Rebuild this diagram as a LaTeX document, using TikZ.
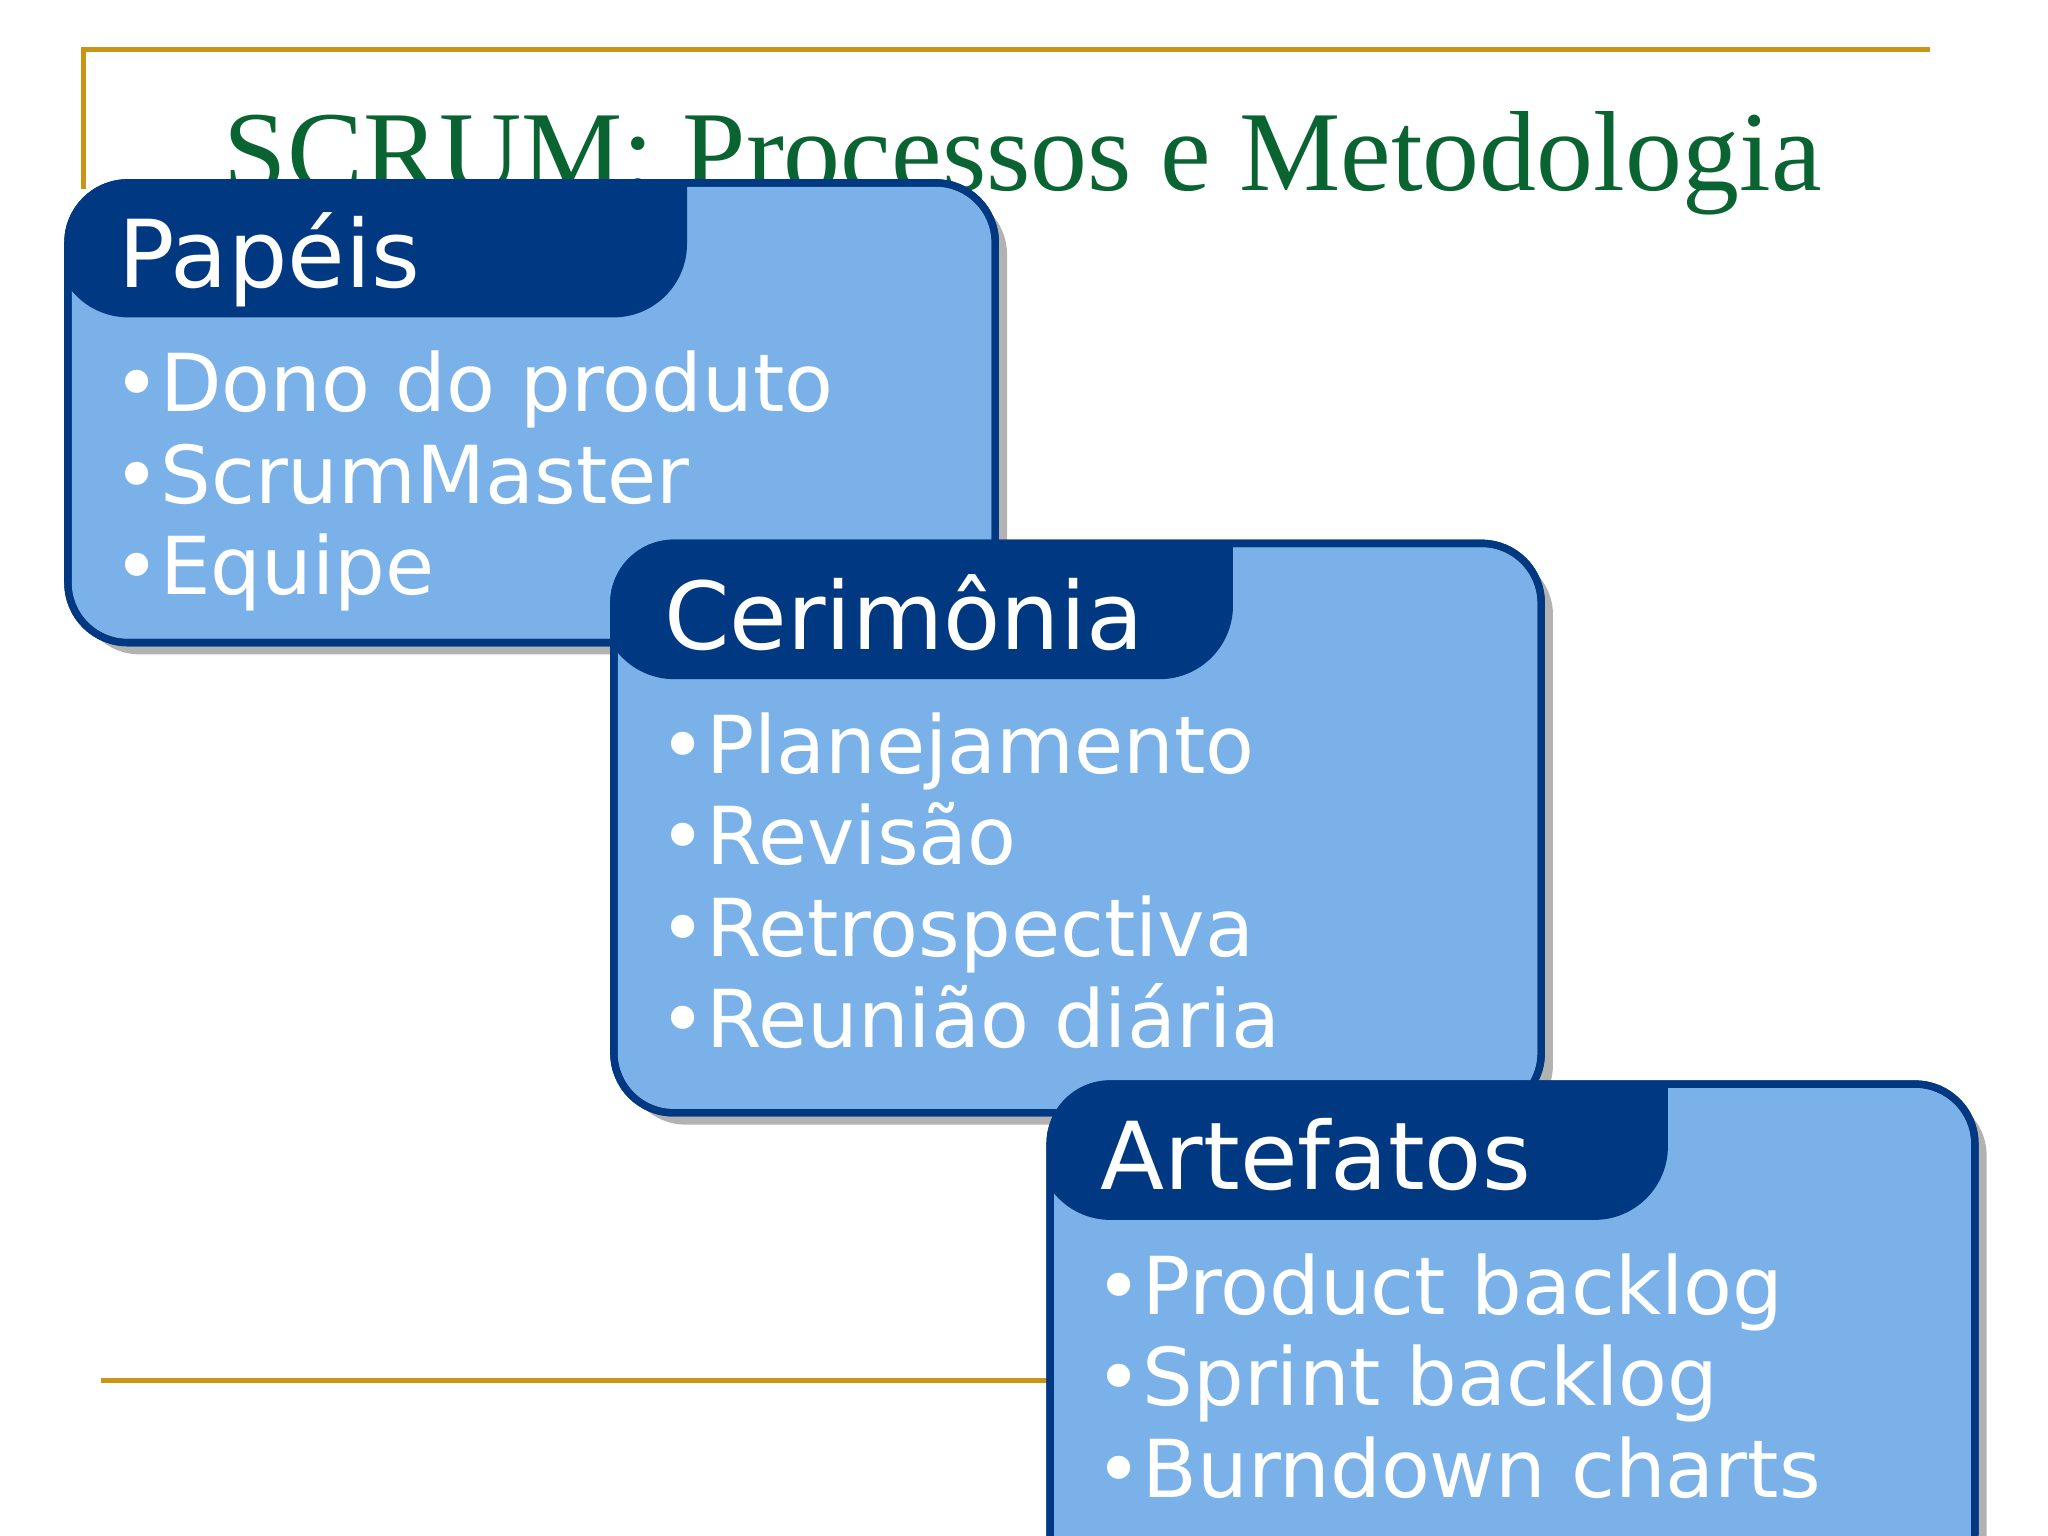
\documentclass[tikz,border=0pt]{standalone}
\usepackage{fontspec}
\setmainfont{DejaVu Sans}
\newfontfamily\titlefont{Liberation Serif}
\begin{document}
\begin{tikzpicture}[x=0.01cm,y=-0.01cm]
\definecolor{gold}{RGB}{200,150,20}
\definecolor{dblue}{RGB}{0,56,130}
\definecolor{lblue}{RGB}{122,177,232}
\definecolor{tgreen}{RGB}{10,100,50}
\tikzset{box/.style={rounded corners=13pt,line width=1.6pt,draw=dblue,fill=lblue},
 shadow/.style={rounded corners=13pt,fill=black!30},
 head/.style={anchor=base west,text=white,font=\fontsize{20.4}{21}\selectfont,inner sep=0},
 body/.style={anchor=north west,text=white,font=\fontsize{17.4}{19.9}\selectfont,align=left,inner sep=0}}
\useasboundingbox (0,0) rectangle (1568,1176);
\draw[gold,line width=1.2pt] (64,145) -- (64,38) -- (1478,38);
\draw[gold,line width=1.2pt] (77,1057) -- (805,1057);
\node[anchor=base,text=tgreen,font=\titlefont\fontsize{24.8}{25}\selectfont,inner sep=0] (title) at (783,146) {SCRUM: Processos e Metodologia};
\foreach \n/\xa/\ya/\xb/\yb/\tx/\ty/\hd/\items in {
 p/52/140/762/492/526/243/Papéis/{•Dono do produto\\•ScrumMaster\\•Equipe},
 c/470/416/1180/852/944/520/Cerimônia/{•Planejamento\\•Revisão\\•Retrospectiva\\•Reunião diária},
 a/804/830/1512/1220/1277/934/Artefatos/{•Product backlog\\•Sprint backlog\\•Burndown charts}}{
 \fill[shadow] (\xa+9,\ya+9) rectangle (\xb+9,\yb+9);
 \filldraw[box] (\xa,\ya) rectangle (\xb,\yb);
 \begin{scope}
 \clip[rounded corners=13pt] (\xa,\ya) rectangle (\xb,\yb);
 \fill[dblue] (\xa-10,\ty) -- (\xa-10,\ya-40) -- (\tx,\ya-40) [rounded corners=16pt]-- (\tx,\ty) -- (\xa-10,\ty) [sharp corners]-- cycle;
 \end{scope}
 \draw[dblue,line width=1.6pt,rounded corners=13pt] (\xa,\ya) rectangle (\xb,\yb);
 \node[head] (\n h) at (\xa+38,\ty-23) {\hd};
 \node[body] (\n b) at (\xa+34,\ty+25) {\items};
}
\end{tikzpicture}
\end{document}
